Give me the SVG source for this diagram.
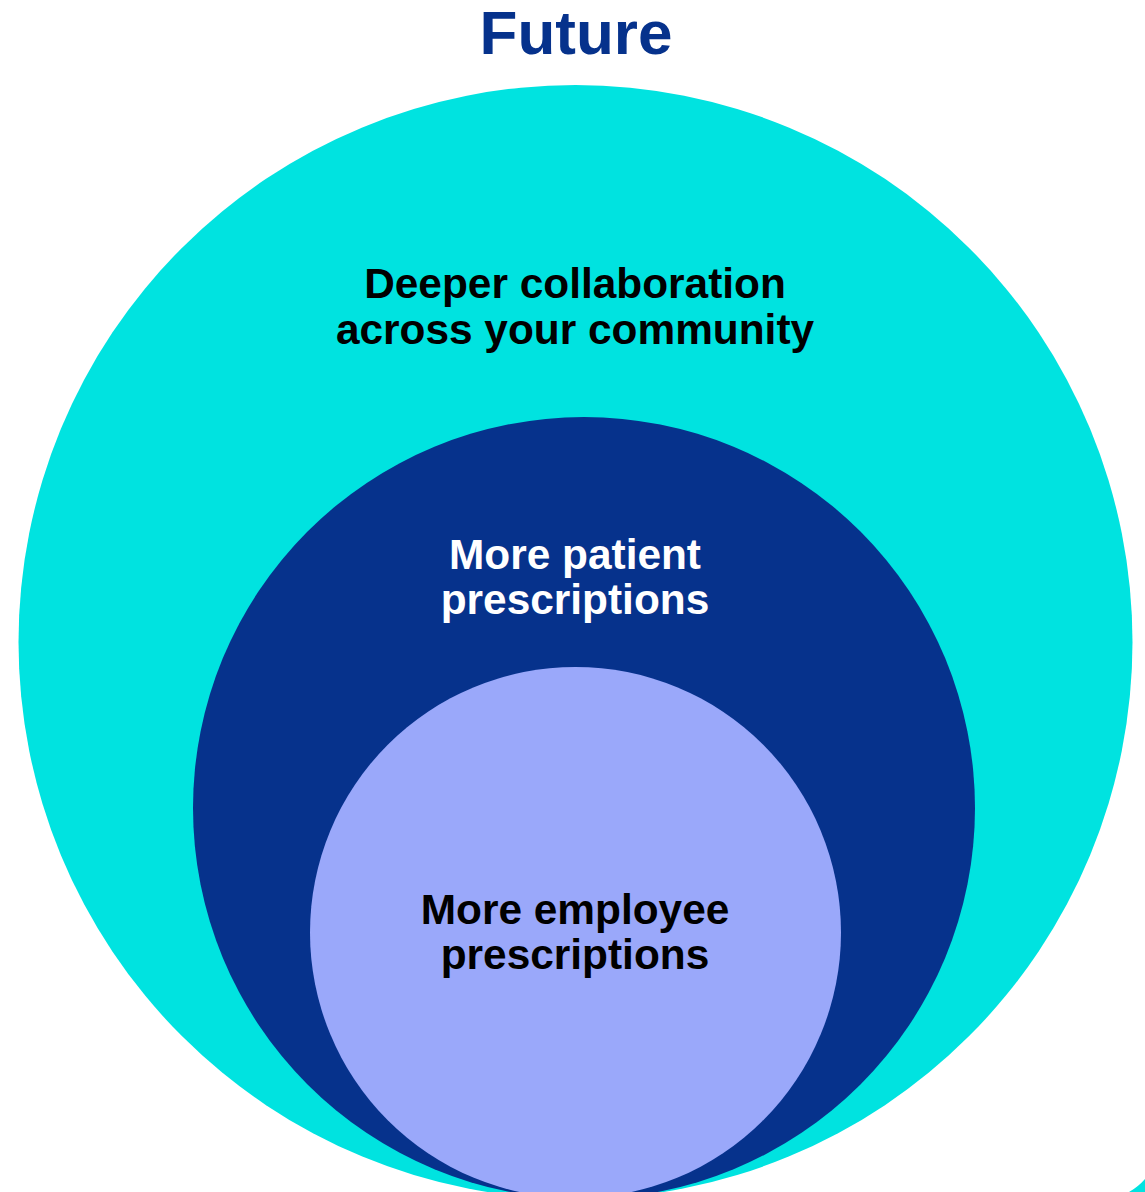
<svg xmlns="http://www.w3.org/2000/svg" width="1145" height="1192" viewBox="0 0 1145 1192">
<style>
.t{font-family:"Liberation Sans",Arial,sans-serif;font-weight:bold;text-anchor:middle}
.lbl{font-size:42.4px}
</style>
<rect width="1145" height="1192" fill="#ffffff"/>
<text class="t" x="576" y="54" font-size="62" fill="#06328C">Future</text>
<g id="outer">
<circle cx="575.5" cy="642" r="557" fill="#00E3E0"/>
<text class="t lbl" x="575" y="298" fill="#000000">Deeper collaboration</text>
<text class="t lbl" x="575" y="344" fill="#000000">across your community</text>
</g>
<g id="middle">
<circle cx="584" cy="808" r="391" fill="#06328C"/>
<text class="t lbl" x="575" y="569" fill="#ffffff">More patient</text>
<text class="t lbl" x="575" y="614" fill="#ffffff">prescriptions</text>
</g>
<g id="inner">
<circle cx="575.5" cy="932.5" r="265.5" fill="#9AA8FA"/>
<text class="t lbl" x="575" y="924" fill="#000000">More employee</text>
<text class="t lbl" x="575" y="969" fill="#000000">prescriptions</text>
</g>
<g id="corner">
<path d="M1129,1192 Q1138,1187 1145,1179 L1145,1192 Z" fill="#00E3E0"/>
</g>
<g id="connectors"></g>
</svg>
